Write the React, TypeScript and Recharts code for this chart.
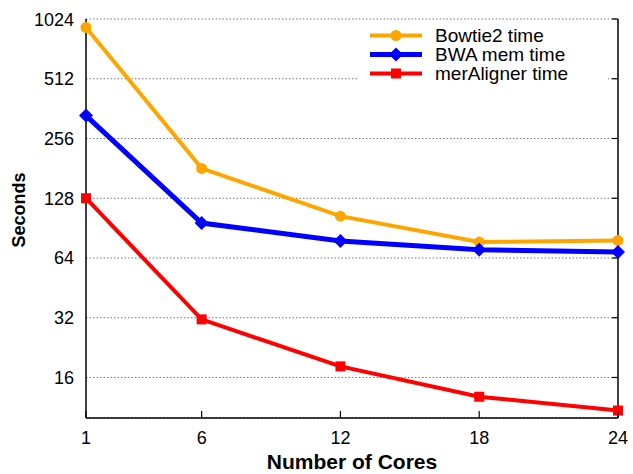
import React from "react";
import {
  LineChart,
  Line,
  XAxis,
  YAxis,
  CartesianGrid,
  Legend,
} from "recharts";

const cores = [1, 6, 12, 18, 24];
const bowtie2 = [928, 181, 104, 77, 78.5];
const bwaMem = [334, 96, 78, 70.5, 68.6];
const merAligner = [128, 31.4, 18.2, 12.8, 10.9];
const xTicks = [1, 6, 12, 18, 24];
const yTicks = [16, 32, 64, 128, 256, 512, 1024];

const data = cores.map((c, i) => ({
  cores: c,
  bowtie2: bowtie2[i],
  bwa: bwaMem[i],
  mer: merAligner[i],
}));

const FONT = "'Liberation Sans', Arial, Helvetica, sans-serif";

const series = [
  { key: "bowtie2", name: "Bowtie2 time", color: "#FFA500", width: 4, shape: "circle" },
  { key: "bwa", name: "BWA mem time", color: "#0000FF", width: 5, shape: "diamond" },
  { key: "mer", name: "merAligner time", color: "#FF0000", width: 4, shape: "square" },
];

function Marker({ cx, cy, shape, color }: any) {
  if (cx == null || cy == null) return null;
  if (shape === "circle") return <circle cx={cx} cy={cy} r={5.5} fill={color} />;
  if (shape === "diamond")
    return (
      <polygon
        points={`${cx},${cy - 7} ${cx + 7},${cy} ${cx},${cy + 7} ${cx - 7},${cy}`}
        fill={color}
      />
    );
  return <rect x={cx - 5} y={cy - 5} width={10} height={10} fill={color} />;
}

function BottomTick({ x, y, payload }: any) {
  return (
    <g>
      <line x1={x} y1={y} x2={x} y2={y - 7} stroke="#000" strokeWidth={1.2} />
      <text x={x} y={y + 26} textAnchor="middle" fontSize={18} fontFamily={FONT} fill="#000">
        {payload.value}
      </text>
    </g>
  );
}

function TopTick({ x, y }: any) {
  return <line x1={x} y1={y} x2={x} y2={y + 7} stroke="#000" strokeWidth={1.2} />;
}

function LeftTick({ x, y, payload }: any) {
  return (
    <text x={x - 12} y={y + 6.5} textAnchor="end" fontSize={18} fontFamily={FONT} fill="#000">
      {payload.value}
    </text>
  );
}

function RightTick({ x, y }: any) {
  return <line x1={x} y1={y} x2={x - 6} y2={y} stroke="#000" strokeWidth={1.2} />;
}

function LegendBox() {
  return (
    <div style={{ background: "#fff", width: 250, padding: "4px 0 6px 0" }}>
      {series.map((s) => (
        <div key={s.key} style={{ display: "flex", alignItems: "center", height: 19 }}>
          <svg width={77} height={19} style={{ display: "block" }}>
            <line x1={12} y1={9.5} x2={64} y2={9.5} stroke={s.color} strokeWidth={s.width} />
            <Marker cx={38} cy={9.5} shape={s.shape} color={s.color} />
          </svg>
          <span style={{ fontFamily: FONT, fontSize: 19, color: "#000", lineHeight: "19px" }}>
            {s.name}
          </span>
        </div>
      ))}
    </div>
  );
}

export default function App() {
  return (
    <div style={{ position: "absolute", left: 0, top: 0, background: "#fff" }}>
      <LineChart
        width={633}
        height={474}
        data={data}
        margin={{ top: 19, right: 0, left: 0, bottom: 0 }}
      >
        <CartesianGrid
          vertical={false}
          stroke="#777"
          strokeDasharray="1.5 2"
          yAxisId="left"
        />
        <XAxis
          xAxisId="bottom"
          dataKey="cores"
          type="number"
          domain={[1, 24]}
          ticks={xTicks}
          height={56}
          tickSize={0}
          tickMargin={0}
          axisLine={{ stroke: "#000", strokeWidth: 1.5 }}
          tickLine={false}
          tick={<BottomTick />}
          interval={0}
          label={{
            content: ({ viewBox }: any) => (
              <text
                x={viewBox.x + viewBox.width / 2}
                y={viewBox.y + 51}
                textAnchor="middle"
                fontSize={21}
                fontWeight="bold"
                fontFamily={FONT}
                fill="#000"
              >
                Number of Cores
              </text>
            ),
          }}
        />
        <XAxis
          xAxisId="top"
          orientation="top"
          dataKey="cores"
          type="number"
          domain={[1, 24]}
          ticks={xTicks}
          height={0}
          tickSize={0}
          tickMargin={0}
          axisLine={{ stroke: "#000", strokeWidth: 1.5 }}
          tickLine={false}
          tick={<TopTick />}
          interval={0}
        />
        <YAxis
          yAxisId="left"
          scale="log"
          domain={[10, 1024]}
          allowDataOverflow
          ticks={yTicks}
          width={86}
          tickSize={0}
          tickMargin={0}
          axisLine={{ stroke: "#000", strokeWidth: 1.5 }}
          tickLine={false}
          tick={<LeftTick />}
          interval={0}
          label={{
            content: () => {
              const cx = 25;
              const cy = 210;
              return (
                <text
                  x={cx}
                  y={cy}
                  transform={`rotate(-90, ${cx}, ${cy})`}
                  textAnchor="middle"
                  fontSize={18}
                  fontWeight="bold"
                  fontFamily={FONT}
                  fill="#000"
                >
                  Seconds
                </text>
              );
            },
          }}
        />
        <YAxis
          yAxisId="right"
          orientation="right"
          scale="log"
          domain={[10, 1024]}
          allowDataOverflow
          ticks={yTicks}
          width={15}
          tickSize={0}
          tickMargin={0}
          axisLine={{ stroke: "#000", strokeWidth: 1.5 }}
          tickLine={false}
          tick={<RightTick />}
          interval={0}
        />
        <Legend
          layout="vertical"
          align="center"
          verticalAlign="middle"
          content={<LegendBox />}
          wrapperStyle={{ left: 358, top: 22, width: 250 }}
        />
        {series.map((s) => (
          <Line
            key={s.key}
            xAxisId="bottom"
            yAxisId="left"
            dataKey={s.key}
            name={s.name}
            stroke={s.color}
            strokeWidth={s.width}
            dot={(p: any) => <Marker key={p.index} cx={p.cx} cy={p.cy} shape={s.shape} color={s.color} />}
            activeDot={false}
            isAnimationActive={false}
          />
        ))}
      </LineChart>
    </div>
  );
}
